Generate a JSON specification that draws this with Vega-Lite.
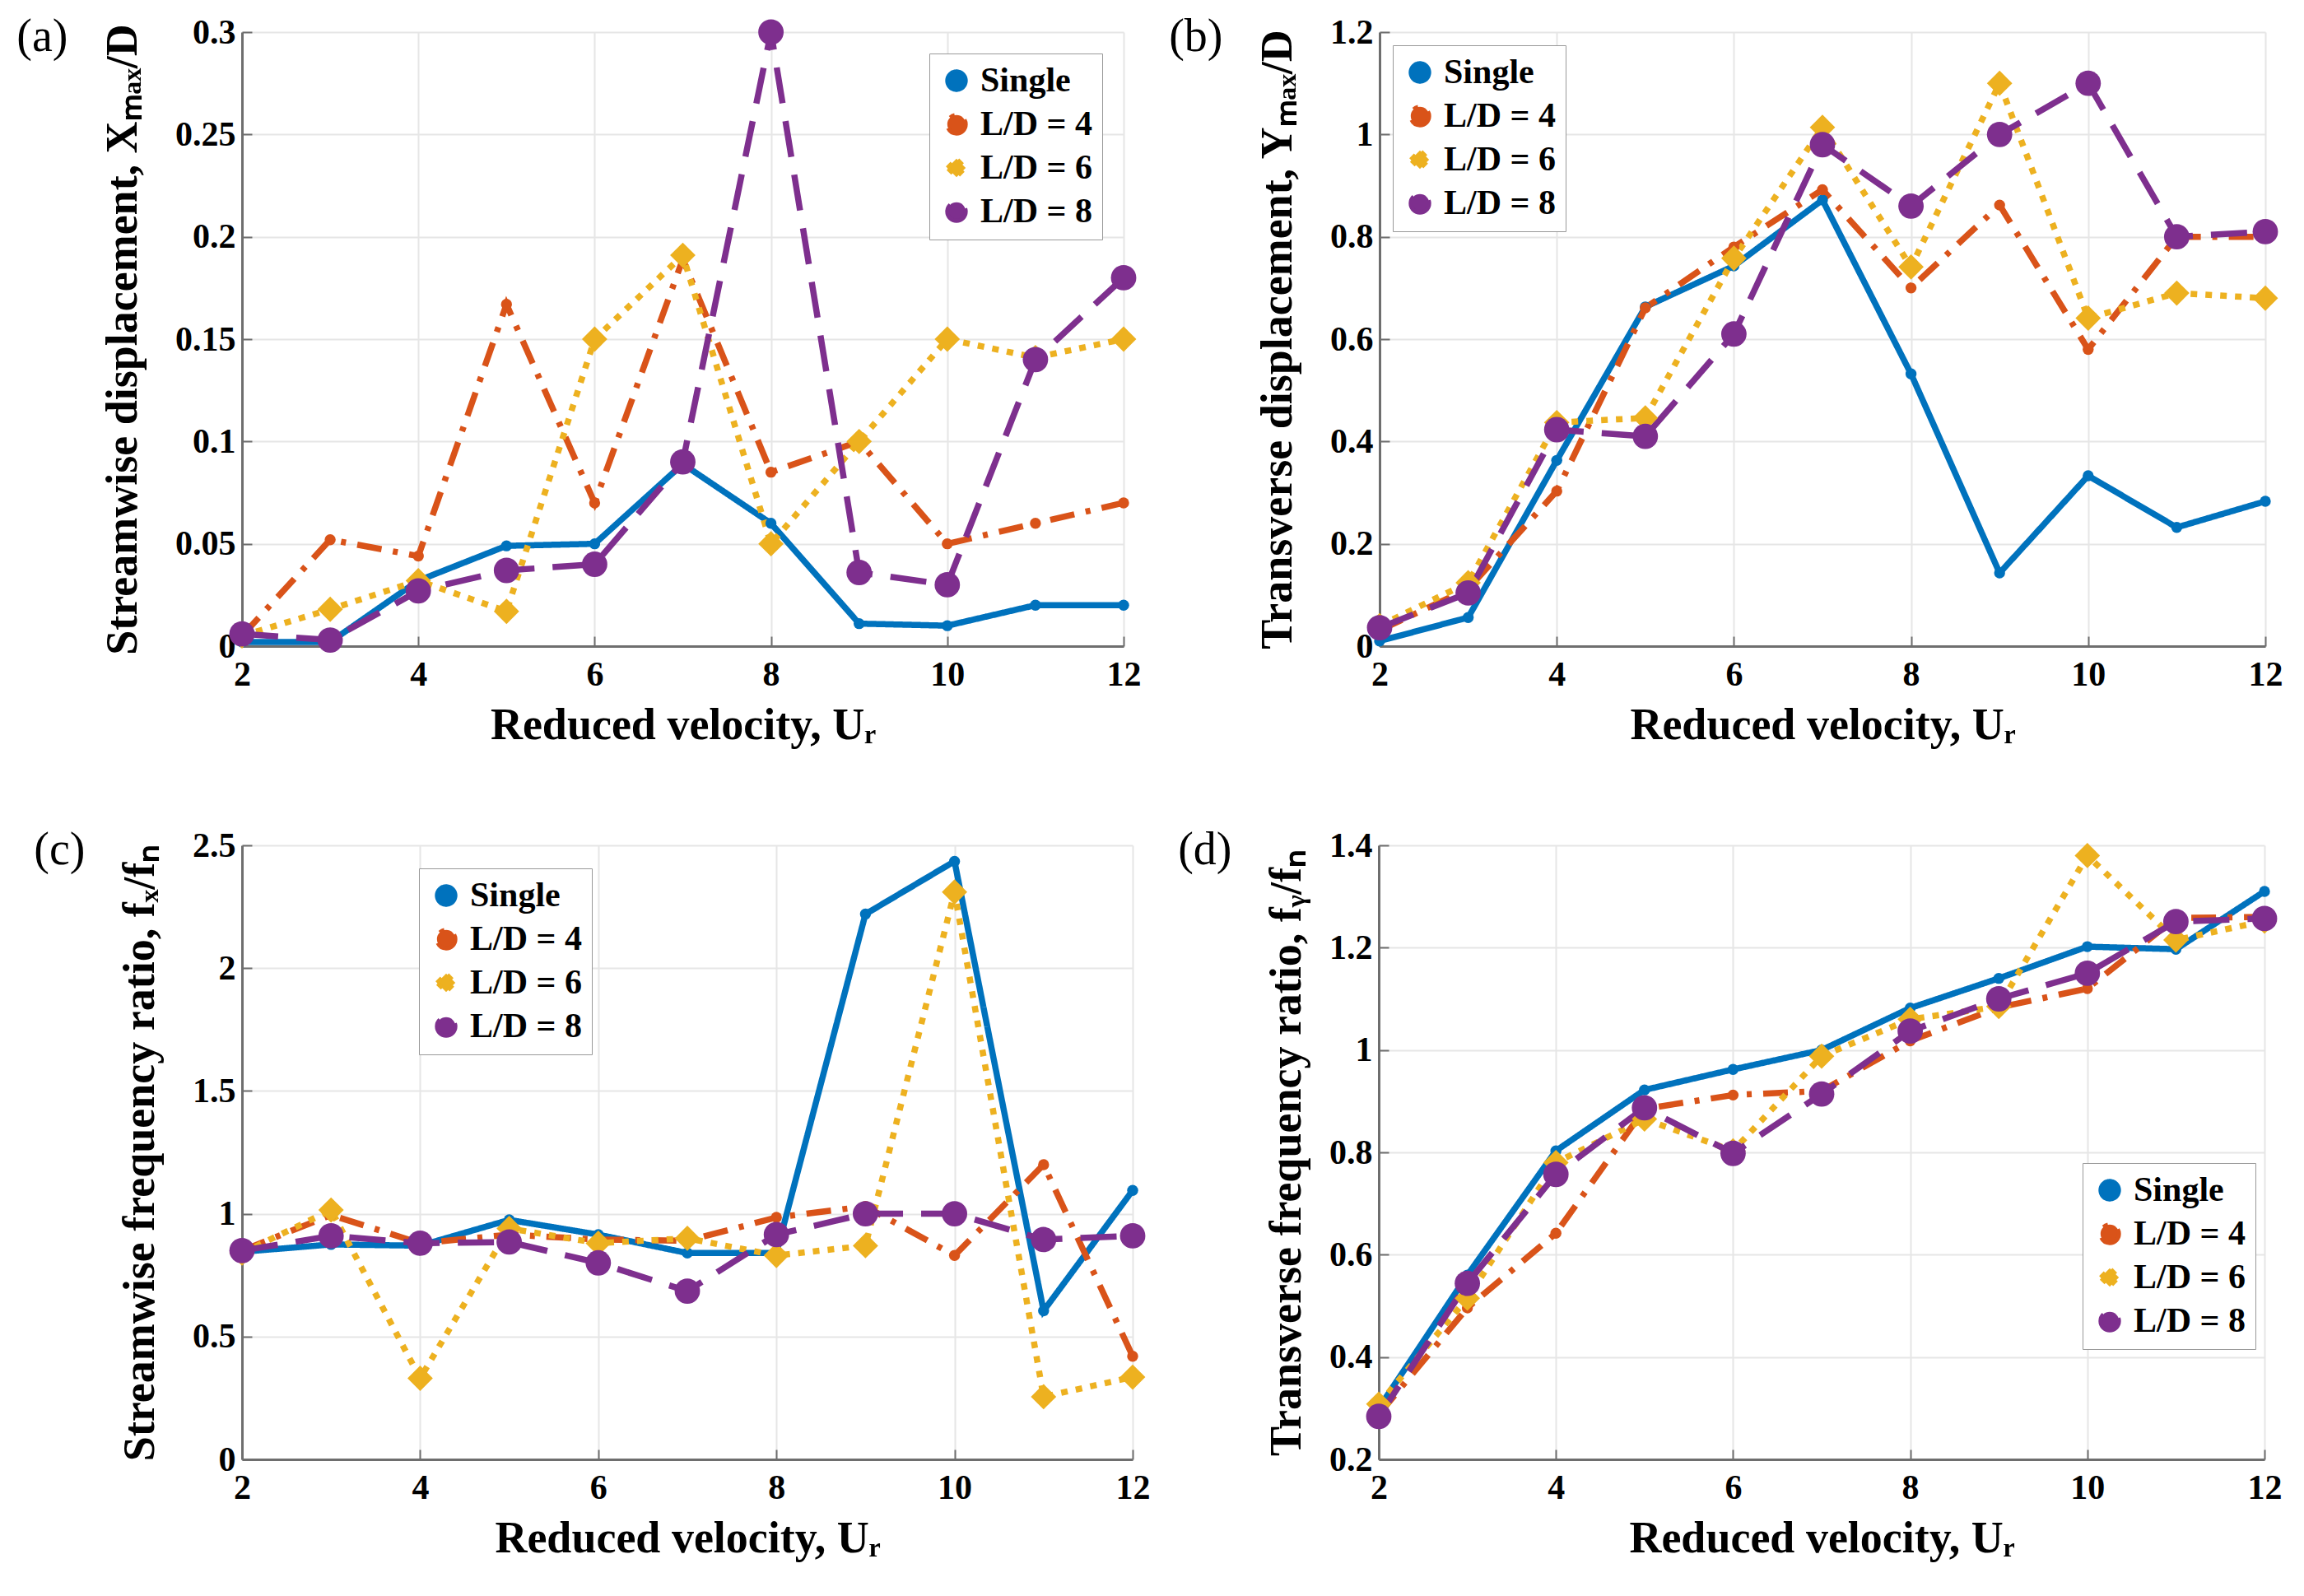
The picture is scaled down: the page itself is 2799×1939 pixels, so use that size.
{
  "$schema": "https://vega.github.io/schema/vega-lite/v6.json",
  "background": "white",
  "padding": {"left": 20, "top": 17, "right": 10, "bottom": 10},
  "config": {
    "view": {"stroke": null},
    "font": "Liberation Serif",
    "axis": {
      "labelFont": "Liberation Serif", "labelFontSize": 42, "labelFontWeight": "bold", "labelColor": "#000",
      "titleFont": "Liberation Serif", "titleFontSize": 54, "titleFontWeight": "bold", "titleColor": "#000",
      "domainColor": "#6e6e6e", "domainWidth": 3, "tickColor": "#6e6e6e", "tickSize": -12, "tickWidth": 2,
      "gridColor": "#e6e6e6", "gridWidth": 2, "labelPadding": 20, "labelFlush": false, "labelOverlap": false
    },
    "axisX": {"titlePadding": 14, "labelPadding": 26},
    "axisY": {"titlePadding": 36},
    "legend": {
      "title": null, "labelFont": "Liberation Serif", "labelFontSize": 42, "labelFontWeight": "bold", "labelColor": "#000",
      "strokeColor": "#999", "fillColor": "white", "padding": 12, "rowPadding": 9,
      "symbolSize": 500, "symbolStrokeWidth": 5, "labelOffset": 8
    },
    "title": {"font": "Liberation Serif", "fontSize": 56, "fontWeight": "normal", "color": "#000"}
  },
  "resolve": {
    "scale": {"color": "independent", "strokeDash": "independent", "shape": "independent"},
    "legend": {"color": "independent", "strokeDash": "independent", "shape": "independent"}
  },
  "datasets": {
    "a": [
      {"ur": 2, "series": "Single", "v": 0.002}, {"ur": 3, "series": "Single", "v": 0.002}, {"ur": 4, "series": "Single", "v": 0.032}, {"ur": 5, "series": "Single", "v": 0.049}, {"ur": 6, "series": "Single", "v": 0.050}, {"ur": 7, "series": "Single", "v": 0.089}, {"ur": 8, "series": "Single", "v": 0.060}, {"ur": 9, "series": "Single", "v": 0.011}, {"ur": 10, "series": "Single", "v": 0.010}, {"ur": 11, "series": "Single", "v": 0.020}, {"ur": 12, "series": "Single", "v": 0.020},
      {"ur": 2, "series": "L/D = 4", "v": 0.005}, {"ur": 3, "series": "L/D = 4", "v": 0.052}, {"ur": 4, "series": "L/D = 4", "v": 0.044}, {"ur": 5, "series": "L/D = 4", "v": 0.167}, {"ur": 6, "series": "L/D = 4", "v": 0.070}, {"ur": 7, "series": "L/D = 4", "v": 0.189}, {"ur": 8, "series": "L/D = 4", "v": 0.085}, {"ur": 9, "series": "L/D = 4", "v": 0.100}, {"ur": 10, "series": "L/D = 4", "v": 0.050}, {"ur": 11, "series": "L/D = 4", "v": 0.060}, {"ur": 12, "series": "L/D = 4", "v": 0.070},
      {"ur": 2, "series": "L/D = 6", "v": 0.005}, {"ur": 3, "series": "L/D = 6", "v": 0.018}, {"ur": 4, "series": "L/D = 6", "v": 0.032}, {"ur": 5, "series": "L/D = 6", "v": 0.017}, {"ur": 6, "series": "L/D = 6", "v": 0.150}, {"ur": 7, "series": "L/D = 6", "v": 0.191}, {"ur": 8, "series": "L/D = 6", "v": 0.050}, {"ur": 9, "series": "L/D = 6", "v": 0.100}, {"ur": 10, "series": "L/D = 6", "v": 0.150}, {"ur": 11, "series": "L/D = 6", "v": 0.141}, {"ur": 12, "series": "L/D = 6", "v": 0.150},
      {"ur": 2, "series": "L/D = 8", "v": 0.006}, {"ur": 3, "series": "L/D = 8", "v": 0.003}, {"ur": 4, "series": "L/D = 8", "v": 0.027}, {"ur": 5, "series": "L/D = 8", "v": 0.037}, {"ur": 6, "series": "L/D = 8", "v": 0.040}, {"ur": 7, "series": "L/D = 8", "v": 0.090}, {"ur": 8, "series": "L/D = 8", "v": 0.300}, {"ur": 9, "series": "L/D = 8", "v": 0.036}, {"ur": 10, "series": "L/D = 8", "v": 0.030}, {"ur": 11, "series": "L/D = 8", "v": 0.140}, {"ur": 12, "series": "L/D = 8", "v": 0.180}
    ],
    "b": [
      {"ur": 2, "series": "Single", "v": 0.010}, {"ur": 3, "series": "Single", "v": 0.056}, {"ur": 4, "series": "Single", "v": 0.363}, {"ur": 5, "series": "Single", "v": 0.663}, {"ur": 6, "series": "Single", "v": 0.743}, {"ur": 7, "series": "Single", "v": 0.872}, {"ur": 8, "series": "Single", "v": 0.532}, {"ur": 9, "series": "Single", "v": 0.143}, {"ur": 10, "series": "Single", "v": 0.333}, {"ur": 11, "series": "Single", "v": 0.232}, {"ur": 12, "series": "Single", "v": 0.283},
      {"ur": 2, "series": "L/D = 4", "v": 0.031}, {"ur": 3, "series": "L/D = 4", "v": 0.112}, {"ur": 4, "series": "L/D = 4", "v": 0.303}, {"ur": 5, "series": "L/D = 4", "v": 0.661}, {"ur": 6, "series": "L/D = 4", "v": 0.780}, {"ur": 7, "series": "L/D = 4", "v": 0.892}, {"ur": 8, "series": "L/D = 4", "v": 0.700}, {"ur": 9, "series": "L/D = 4", "v": 0.862}, {"ur": 10, "series": "L/D = 4", "v": 0.580}, {"ur": 11, "series": "L/D = 4", "v": 0.800}, {"ur": 12, "series": "L/D = 4", "v": 0.800},
      {"ur": 2, "series": "L/D = 6", "v": 0.040}, {"ur": 3, "series": "L/D = 6", "v": 0.124}, {"ur": 4, "series": "L/D = 6", "v": 0.437}, {"ur": 5, "series": "L/D = 6", "v": 0.446}, {"ur": 6, "series": "L/D = 6", "v": 0.758}, {"ur": 7, "series": "L/D = 6", "v": 1.014}, {"ur": 8, "series": "L/D = 6", "v": 0.741}, {"ur": 9, "series": "L/D = 6", "v": 1.100}, {"ur": 10, "series": "L/D = 6", "v": 0.641}, {"ur": 11, "series": "L/D = 6", "v": 0.690}, {"ur": 12, "series": "L/D = 6", "v": 0.680},
      {"ur": 2, "series": "L/D = 8", "v": 0.036}, {"ur": 3, "series": "L/D = 8", "v": 0.104}, {"ur": 4, "series": "L/D = 8", "v": 0.423}, {"ur": 5, "series": "L/D = 8", "v": 0.410}, {"ur": 6, "series": "L/D = 8", "v": 0.610}, {"ur": 7, "series": "L/D = 8", "v": 0.980}, {"ur": 8, "series": "L/D = 8", "v": 0.860}, {"ur": 9, "series": "L/D = 8", "v": 1.000}, {"ur": 10, "series": "L/D = 8", "v": 1.100}, {"ur": 11, "series": "L/D = 8", "v": 0.800}, {"ur": 12, "series": "L/D = 8", "v": 0.810}
    ],
    "c": [
      {"ur": 2, "series": "Single", "v": 0.845}, {"ur": 3, "series": "Single", "v": 0.875}, {"ur": 4, "series": "Single", "v": 0.870}, {"ur": 5, "series": "Single", "v": 0.975}, {"ur": 6, "series": "Single", "v": 0.915}, {"ur": 7, "series": "Single", "v": 0.840}, {"ur": 8, "series": "Single", "v": 0.840}, {"ur": 9, "series": "Single", "v": 2.220}, {"ur": 10, "series": "Single", "v": 2.435}, {"ur": 11, "series": "Single", "v": 0.605}, {"ur": 12, "series": "Single", "v": 1.095},
      {"ur": 2, "series": "L/D = 4", "v": 0.850}, {"ur": 3, "series": "L/D = 4", "v": 0.995}, {"ur": 4, "series": "L/D = 4", "v": 0.880}, {"ur": 5, "series": "L/D = 4", "v": 0.915}, {"ur": 6, "series": "L/D = 4", "v": 0.895}, {"ur": 7, "series": "L/D = 4", "v": 0.890}, {"ur": 8, "series": "L/D = 4", "v": 0.985}, {"ur": 9, "series": "L/D = 4", "v": 1.030}, {"ur": 10, "series": "L/D = 4", "v": 0.830}, {"ur": 11, "series": "L/D = 4", "v": 1.200}, {"ur": 12, "series": "L/D = 4", "v": 0.420},
      {"ur": 2, "series": "L/D = 6", "v": 0.840}, {"ur": 3, "series": "L/D = 6", "v": 1.015}, {"ur": 4, "series": "L/D = 6", "v": 0.330}, {"ur": 5, "series": "L/D = 6", "v": 0.940}, {"ur": 6, "series": "L/D = 6", "v": 0.880}, {"ur": 7, "series": "L/D = 6", "v": 0.900}, {"ur": 8, "series": "L/D = 6", "v": 0.830}, {"ur": 9, "series": "L/D = 6", "v": 0.870}, {"ur": 10, "series": "L/D = 6", "v": 2.310}, {"ur": 11, "series": "L/D = 6", "v": 0.255}, {"ur": 12, "series": "L/D = 6", "v": 0.335},
      {"ur": 2, "series": "L/D = 8", "v": 0.850}, {"ur": 3, "series": "L/D = 8", "v": 0.910}, {"ur": 4, "series": "L/D = 8", "v": 0.880}, {"ur": 5, "series": "L/D = 8", "v": 0.885}, {"ur": 6, "series": "L/D = 8", "v": 0.800}, {"ur": 7, "series": "L/D = 8", "v": 0.685}, {"ur": 8, "series": "L/D = 8", "v": 0.915}, {"ur": 9, "series": "L/D = 8", "v": 1.000}, {"ur": 10, "series": "L/D = 8", "v": 1.000}, {"ur": 11, "series": "L/D = 8", "v": 0.895}, {"ur": 12, "series": "L/D = 8", "v": 0.910}
    ],
    "d": [
      {"ur": 2, "series": "Single", "v": 0.300}, {"ur": 3, "series": "Single", "v": 0.560}, {"ur": 4, "series": "Single", "v": 0.803}, {"ur": 5, "series": "Single", "v": 0.922}, {"ur": 6, "series": "Single", "v": 0.962}, {"ur": 7, "series": "Single", "v": 1.000}, {"ur": 8, "series": "Single", "v": 1.082}, {"ur": 9, "series": "Single", "v": 1.140}, {"ur": 10, "series": "Single", "v": 1.202}, {"ur": 11, "series": "Single", "v": 1.197}, {"ur": 12, "series": "Single", "v": 1.310},
      {"ur": 2, "series": "L/D = 4", "v": 0.288}, {"ur": 3, "series": "L/D = 4", "v": 0.496}, {"ur": 4, "series": "L/D = 4", "v": 0.642}, {"ur": 5, "series": "L/D = 4", "v": 0.885}, {"ur": 6, "series": "L/D = 4", "v": 0.912}, {"ur": 7, "series": "L/D = 4", "v": 0.920}, {"ur": 8, "series": "L/D = 4", "v": 1.018}, {"ur": 9, "series": "L/D = 4", "v": 1.083}, {"ur": 10, "series": "L/D = 4", "v": 1.120}, {"ur": 11, "series": "L/D = 4", "v": 1.258}, {"ur": 12, "series": "L/D = 4", "v": 1.260},
      {"ur": 2, "series": "L/D = 6", "v": 0.308}, {"ur": 3, "series": "L/D = 6", "v": 0.515}, {"ur": 4, "series": "L/D = 6", "v": 0.780}, {"ur": 5, "series": "L/D = 6", "v": 0.865}, {"ur": 6, "series": "L/D = 6", "v": 0.803}, {"ur": 7, "series": "L/D = 6", "v": 0.988}, {"ur": 8, "series": "L/D = 6", "v": 1.060}, {"ur": 9, "series": "L/D = 6", "v": 1.085}, {"ur": 10, "series": "L/D = 6", "v": 1.380}, {"ur": 11, "series": "L/D = 6", "v": 1.215}, {"ur": 12, "series": "L/D = 6", "v": 1.252},
      {"ur": 2, "series": "L/D = 8", "v": 0.284}, {"ur": 3, "series": "L/D = 8", "v": 0.544}, {"ur": 4, "series": "L/D = 8", "v": 0.757}, {"ur": 5, "series": "L/D = 8", "v": 0.887}, {"ur": 6, "series": "L/D = 8", "v": 0.798}, {"ur": 7, "series": "L/D = 8", "v": 0.914}, {"ur": 8, "series": "L/D = 8", "v": 1.037}, {"ur": 9, "series": "L/D = 8", "v": 1.100}, {"ur": 10, "series": "L/D = 8", "v": 1.150}, {"ur": 11, "series": "L/D = 8", "v": 1.251}, {"ur": 12, "series": "L/D = 8", "v": 1.257}
    ]
  },
  "spacing": 97,
  "vconcat": [
    {
      "spacing": 34,
      "resolve": {
        "scale": {"color": "independent", "strokeDash": "independent", "shape": "independent"},
        "legend": {"color": "independent", "strokeDash": "independent", "shape": "independent"}
      },
      "hconcat": [
        {
          "width": 1071, "height": 746,
          "title": {"text": "(a)", "orient": "left", "anchor": "end", "angle": 0, "align": "left", "baseline": "top", "offset": 40},
          "data": {"name": "a"},
          "encoding": {
            "x": {"field": "ur", "type": "quantitative", "scale": {"domain": [2, 12]}, "axis": {"values": [2, 4, 6, 8, 10, 12], "title": "Reduced velocity, Uᵣ"}},
            "y": {"field": "v", "type": "quantitative", "scale": {"domain": [0, 0.3]}, "axis": {"values": [0, 0.05, 0.1, 0.15, 0.2, 0.25, 0.3], "format": "~g", "title": "Streamwise displacement, Xₘₐₓ/D"}},
            "color": {"field": "series", "type": "nominal", "scale": {"domain": ["Single", "L/D = 4", "L/D = 6", "L/D = 8"], "range": ["#0072BD", "#D95319", "#EDB120", "#7E2F8E"]}, "legend": {"orient": "top-right", "offset": 26}},
            "shape": {"field": "series", "type": "nominal", "scale": {"domain": ["Single", "L/D = 4", "L/D = 6", "L/D = 8"], "range": ["circle", "circle", "diamond", "circle"]}, "legend": {"orient": "top-right", "offset": 26}}
          },
          "layer": [
            {"mark": {"type": "line", "strokeWidth": 7.5}, "encoding": {"strokeDash": {"field": "series", "type": "nominal", "scale": {"domain": ["Single", "L/D = 4", "L/D = 6", "L/D = 8"], "range": [[1, 0], [30, 14, 6, 14], [8, 10], [44, 22]]}, "legend": {"orient": "top-right", "offset": 26}}}},
            {"transform": [{"filter": {"field": "series", "oneOf": ["Single", "L/D = 4"]}}], "mark": {"type": "point", "filled": true, "opacity": 1, "size": 180}},
            {"transform": [{"filter": {"field": "series", "oneOf": ["L/D = 6", "L/D = 8"]}}], "mark": {"type": "point", "filled": true, "opacity": 1, "size": 950}}
          ]
        },
        {
          "width": 1076, "height": 746,
          "title": {"text": "(b)", "orient": "left", "anchor": "end", "angle": 0, "align": "left", "baseline": "top", "offset": 40},
          "data": {"name": "b"},
          "encoding": {
            "x": {"field": "ur", "type": "quantitative", "scale": {"domain": [2, 12]}, "axis": {"values": [2, 4, 6, 8, 10, 12], "title": "Reduced velocity, Uᵣ"}},
            "y": {"field": "v", "type": "quantitative", "scale": {"domain": [0, 1.2]}, "axis": {"values": [0, 0.2, 0.4, 0.6, 0.8, 1, 1.2], "format": "~g", "title": "Transverse displacement, Yₘₐₓ/D"}},
            "color": {"field": "series", "type": "nominal", "scale": {"domain": ["Single", "L/D = 4", "L/D = 6", "L/D = 8"], "range": ["#0072BD", "#D95319", "#EDB120", "#7E2F8E"]}, "legend": {"orient": "top-left", "offset": 16}},
            "shape": {"field": "series", "type": "nominal", "scale": {"domain": ["Single", "L/D = 4", "L/D = 6", "L/D = 8"], "range": ["circle", "circle", "diamond", "circle"]}, "legend": {"orient": "top-left", "offset": 16}}
          },
          "layer": [
            {"mark": {"type": "line", "strokeWidth": 7.5}, "encoding": {"strokeDash": {"field": "series", "type": "nominal", "scale": {"domain": ["Single", "L/D = 4", "L/D = 6", "L/D = 8"], "range": [[1, 0], [30, 14, 6, 14], [8, 10], [44, 22]]}, "legend": {"orient": "top-left", "offset": 16}}}},
            {"transform": [{"filter": {"field": "series", "oneOf": ["Single", "L/D = 4"]}}], "mark": {"type": "point", "filled": true, "opacity": 1, "size": 180}},
            {"transform": [{"filter": {"field": "series", "oneOf": ["L/D = 6", "L/D = 8"]}}], "mark": {"type": "point", "filled": true, "opacity": 1, "size": 950}}
          ]
        }
      ]
    },
    {
      "spacing": 34,
      "resolve": {
        "scale": {"color": "independent", "strokeDash": "independent", "shape": "independent"},
        "legend": {"color": "independent", "strokeDash": "independent", "shape": "independent"}
      },
      "hconcat": [
        {
          "width": 1082, "height": 746,
          "title": {"text": "(c)", "orient": "left", "anchor": "end", "angle": 0, "align": "left", "baseline": "top", "offset": 40},
          "data": {"name": "c"},
          "encoding": {
            "x": {"field": "ur", "type": "quantitative", "scale": {"domain": [2, 12]}, "axis": {"values": [2, 4, 6, 8, 10, 12], "title": "Reduced velocity, Uᵣ"}},
            "y": {"field": "v", "type": "quantitative", "scale": {"domain": [0, 2.5]}, "axis": {"values": [0, 0.5, 1, 1.5, 2, 2.5], "format": "~g", "title": "Streamwise frequency ratio, fₓ/fₙ"}},
            "color": {"field": "series", "type": "nominal", "scale": {"domain": ["Single", "L/D = 4", "L/D = 6", "L/D = 8"], "range": ["#0072BD", "#D95319", "#EDB120", "#7E2F8E"]}, "legend": {"orient": "none", "legendX": 215, "legendY": 28}},
            "shape": {"field": "series", "type": "nominal", "scale": {"domain": ["Single", "L/D = 4", "L/D = 6", "L/D = 8"], "range": ["circle", "circle", "diamond", "circle"]}, "legend": {"orient": "none", "legendX": 215, "legendY": 28}}
          },
          "layer": [
            {"mark": {"type": "line", "strokeWidth": 7.5}, "encoding": {"strokeDash": {"field": "series", "type": "nominal", "scale": {"domain": ["Single", "L/D = 4", "L/D = 6", "L/D = 8"], "range": [[1, 0], [30, 14, 6, 14], [8, 10], [44, 22]]}, "legend": {"orient": "none", "legendX": 215, "legendY": 28}}}},
            {"transform": [{"filter": {"field": "series", "oneOf": ["Single", "L/D = 4"]}}], "mark": {"type": "point", "filled": true, "opacity": 1, "size": 180}},
            {"transform": [{"filter": {"field": "series", "oneOf": ["L/D = 6", "L/D = 8"]}}], "mark": {"type": "point", "filled": true, "opacity": 1, "size": 950}}
          ]
        },
        {
          "width": 1076, "height": 746,
          "title": {"text": "(d)", "orient": "left", "anchor": "end", "angle": 0, "align": "left", "baseline": "top", "offset": 40},
          "data": {"name": "d"},
          "encoding": {
            "x": {"field": "ur", "type": "quantitative", "scale": {"domain": [2, 12]}, "axis": {"values": [2, 4, 6, 8, 10, 12], "title": "Reduced velocity, Uᵣ"}},
            "y": {"field": "v", "type": "quantitative", "scale": {"domain": [0.2, 1.4]}, "axis": {"values": [0.2, 0.4, 0.6, 0.8, 1, 1.2, 1.4], "format": "~g", "title": "Transverse frequency ratio, fᵧ/fₙ", "titlePadding": 24}},
            "color": {"field": "series", "type": "nominal", "scale": {"domain": ["Single", "L/D = 4", "L/D = 6", "L/D = 8"], "range": ["#0072BD", "#D95319", "#EDB120", "#7E2F8E"]}, "legend": {"orient": "none", "legendX": 855, "legendY": 386}},
            "shape": {"field": "series", "type": "nominal", "scale": {"domain": ["Single", "L/D = 4", "L/D = 6", "L/D = 8"], "range": ["circle", "circle", "diamond", "circle"]}, "legend": {"orient": "none", "legendX": 855, "legendY": 386}}
          },
          "layer": [
            {"mark": {"type": "line", "strokeWidth": 7.5}, "encoding": {"strokeDash": {"field": "series", "type": "nominal", "scale": {"domain": ["Single", "L/D = 4", "L/D = 6", "L/D = 8"], "range": [[1, 0], [30, 14, 6, 14], [8, 10], [44, 22]]}, "legend": {"orient": "none", "legendX": 855, "legendY": 386}}}},
            {"transform": [{"filter": {"field": "series", "oneOf": ["Single", "L/D = 4"]}}], "mark": {"type": "point", "filled": true, "opacity": 1, "size": 180}},
            {"transform": [{"filter": {"field": "series", "oneOf": ["L/D = 6", "L/D = 8"]}}], "mark": {"type": "point", "filled": true, "opacity": 1, "size": 950}}
          ]
        }
      ]
    }
  ]
}
